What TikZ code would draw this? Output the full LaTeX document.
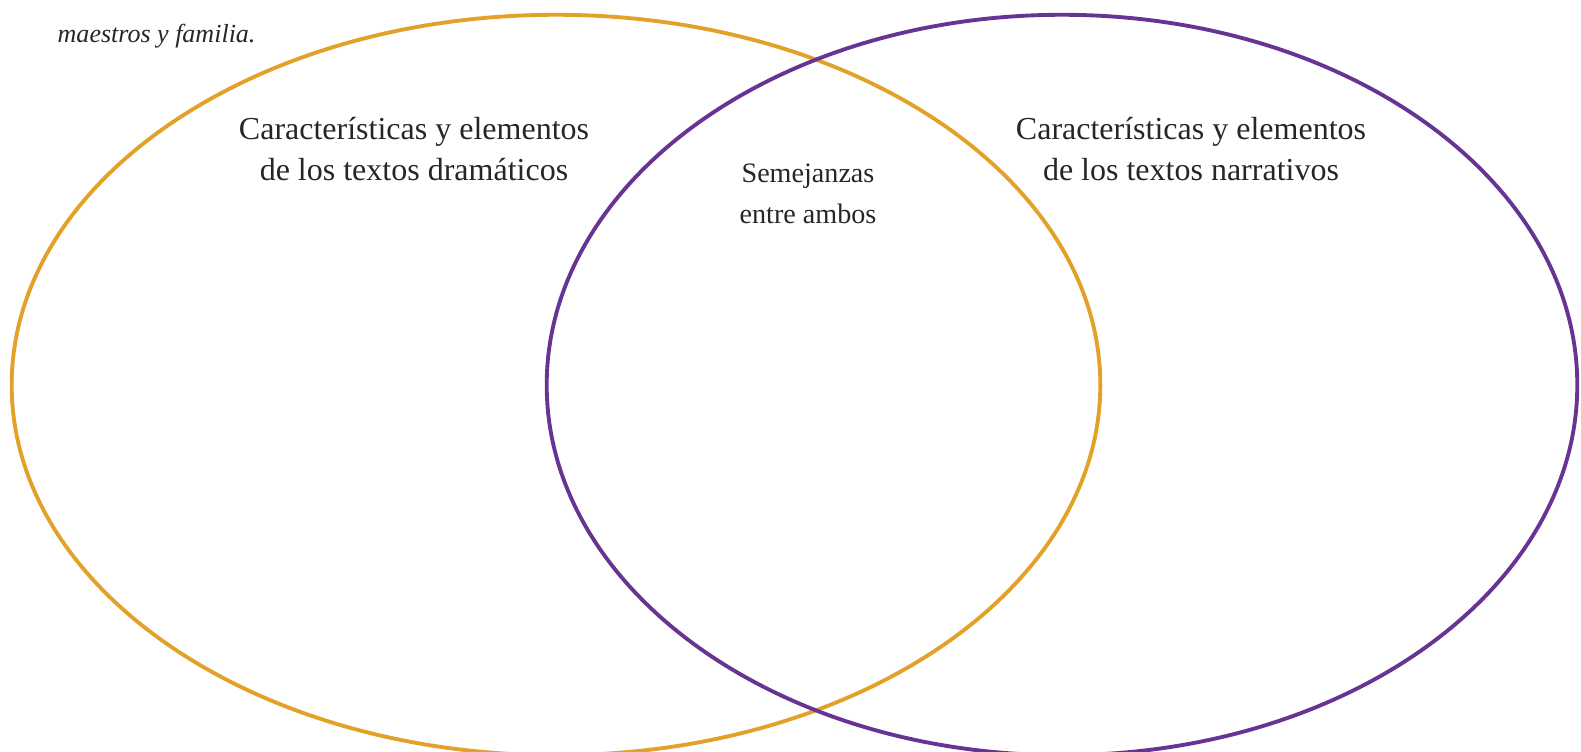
\documentclass[tikz,border=0pt]{standalone}
\usepackage{fontspec}
\setmainfont{Liberation Serif}
\usepackage{xcolor}
\usepackage{tikz}
\usetikzlibrary{shapes.geometric}
\definecolor{cdrama}{RGB}{226,162,42}
\definecolor{cnarr}{RGB}{104,52,148}

\begin{document}
\begin{tikzpicture}[x=0.01cm,y=-0.01cm,
  set/.style={ellipse,draw,line width=1.1pt,inner sep=0pt},
  lbl/.style={align=center,font=\fontsize{9.1}{11.6}\selectfont,text=black!85},
]
\useasboundingbox (0,0) rectangle (1581,752);
\node[set,draw=cdrama,minimum width=10.88cm,minimum height=7.40cm] (drama) at (556,385) {};
\node[set,draw=cnarr,minimum width=10.30cm,minimum height=7.40cm] (narr) at (1062,385) {};
\node[lbl] (tdrama) at (414,149) {Características y elementos\\de los textos dramáticos};
\node[lbl] (tnarr) at (1191,149) {Características y elementos\\de los textos narrativos};
\node[lbl,font=\fontsize{8}{11.6}\selectfont] (tboth) at (808,194) {Semejanzas\\entre ambos};
\node[font=\fontsize{7.4}{11}\selectfont\itshape,anchor=west,text=black!85,inner sep=0pt] (note) at (57,36) {maestros y familia.};
\end{tikzpicture}
\end{document}
